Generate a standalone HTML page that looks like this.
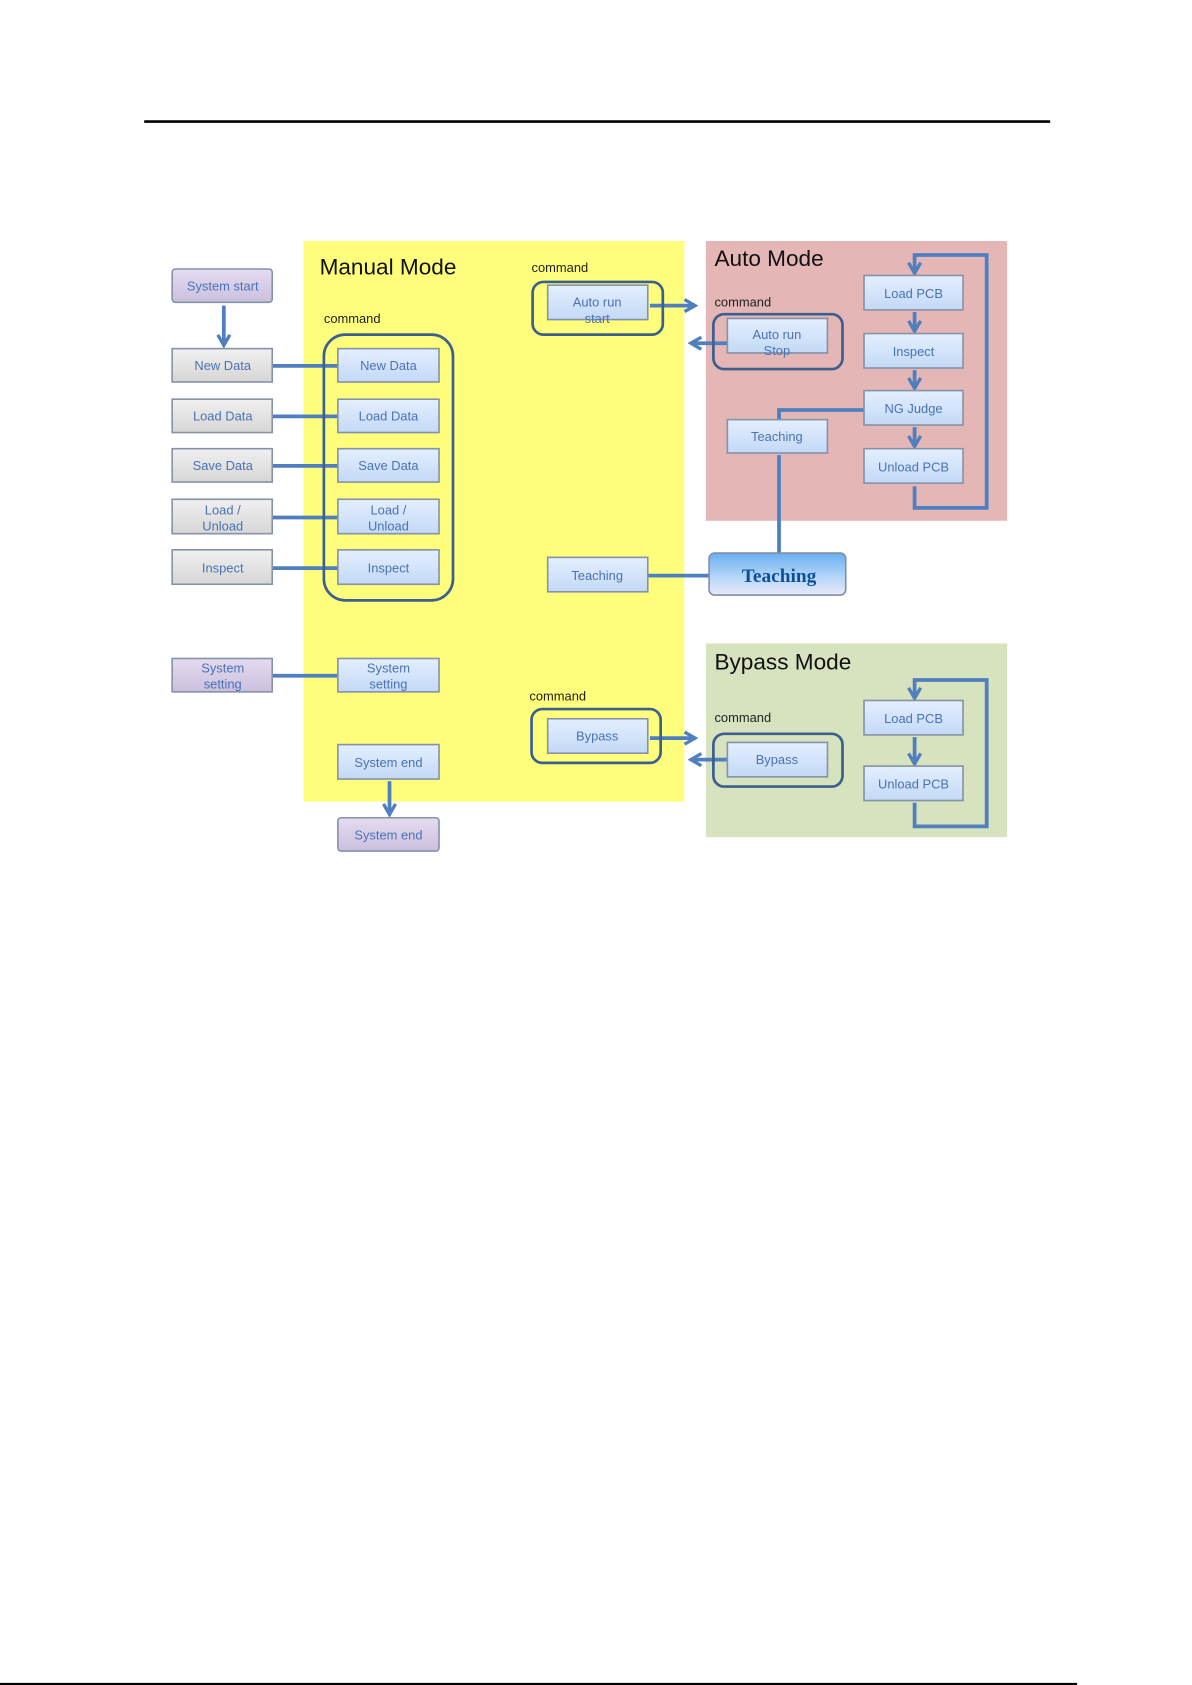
<!DOCTYPE html>
<html><head><meta charset="utf-8"><style>html,body{margin:0;padding:0;background:#fff}svg{display:block}</style></head>
<body>
<svg width="1192" height="1685" viewBox="0 0 1107.8 1566" xmlns="http://www.w3.org/2000/svg" font-family="Liberation Sans, sans-serif">
<defs>
<linearGradient id="bl" x1="0" y1="0" x2="0" y2="1"><stop offset="0" stop-color="#e4efff"/><stop offset="1" stop-color="#c3d9f6"/></linearGradient>
<linearGradient id="gr" x1="0" y1="0" x2="0" y2="1"><stop offset="0" stop-color="#f0f0f0"/><stop offset="1" stop-color="#d6d6d6"/></linearGradient>
<linearGradient id="pu" x1="0" y1="0" x2="0" y2="1"><stop offset="0" stop-color="#e4dcf0"/><stop offset="1" stop-color="#cbbfdf"/></linearGradient>
<linearGradient id="tb" x1="0" y1="0" x2="0" y2="1"><stop offset="0" stop-color="#6aaef0"/><stop offset="0.6" stop-color="#b8d8f8"/><stop offset="1" stop-color="#e8e8f8"/></linearGradient>
<marker id="ar" viewBox="0 0 10 10" refX="8" refY="5" markerWidth="4" markerHeight="4" orient="auto"><path d="M1,1 L8,5 L1,9" fill="none" stroke="#4f7fbf" stroke-width="2.2"/></marker>
</defs>
<line x1="134" y1="113" x2="976" y2="113" stroke="#000" stroke-width="2.5"/>
<line x1="0" y1="1565" x2="1001" y2="1565" stroke="#000" stroke-width="2"/>
<rect x="282" y="224" width="354" height="521" fill="#fefe7c"/>
<rect x="656" y="224" width="280" height="260" fill="#e4b6b6"/>
<rect x="656" y="598" width="280" height="180" fill="#d7e2be"/>
<g fill="#111" font-size="21"><text x="297" y="255">Manual Mode</text><text x="664" y="247">Auto Mode</text><text x="664" y="622">Bypass Mode</text></g>
<g fill="#222" font-size="12"><text x="301" y="300">command</text><text x="494" y="253">command</text><text x="664" y="285">command</text><text x="492" y="651">command</text><text x="664" y="671">command</text></g>
<g fill="none" stroke="#4f7fbf" stroke-width="3.5">
<line x1="253" y1="340" x2="314" y2="340"/><line x1="253" y1="387" x2="314" y2="387"/><line x1="253" y1="433" x2="314" y2="433"/><line x1="253" y1="481" x2="314" y2="481"/><line x1="253" y1="528" x2="314" y2="528"/><line x1="253" y1="628" x2="314" y2="628"/>
<line x1="208" y1="284" x2="208" y2="321" marker-end="url(#ar)"/>
<line x1="362" y1="726" x2="362" y2="757" marker-end="url(#ar)"/>
<line x1="604" y1="284" x2="646" y2="284" marker-end="url(#ar)"/>
<line x1="676" y1="319" x2="642" y2="319" marker-end="url(#ar)"/>
<line x1="604" y1="686" x2="646" y2="686" marker-end="url(#ar)"/>
<line x1="676" y1="706" x2="642" y2="706" marker-end="url(#ar)"/>
<line x1="850" y1="290" x2="850" y2="308" marker-end="url(#ar)"/>
<line x1="850" y1="344" x2="850" y2="361" marker-end="url(#ar)"/>
<line x1="850" y1="397" x2="850" y2="415" marker-end="url(#ar)"/>
<polyline points="850,452 850,472 917,472 917,237 850,237 850,254" marker-end="url(#ar)"/>
<line x1="850" y1="685" x2="850" y2="710" marker-end="url(#ar)"/>
<polyline points="850,746 850,768 917,768 917,632 850,632 850,649" marker-end="url(#ar)"/>
<polyline points="803,381 724,381 724,390"/>
<line x1="724" y1="423" x2="724" y2="514"/>
<line x1="602" y1="535" x2="659" y2="535"/>
</g>
<g fill="none" stroke="#3d5f8e" stroke-width="2.5">
<rect x="301" y="311" width="120" height="247" rx="20"/>
<rect x="495" y="262" width="121" height="49" rx="10"/>
<rect x="663" y="292" width="120" height="51" rx="10"/>
<rect x="494" y="659" width="120" height="50" rx="10"/>
<rect x="663" y="682" width="120" height="49" rx="10"/>
</g>
<g stroke="#8593a8" stroke-width="1.5">
<rect x="160" y="250" width="93" height="31" rx="3" fill="url(#pu)"/>
<rect x="160" y="324" width="93" height="31" fill="url(#gr)"/>
<rect x="160" y="371" width="93" height="31" fill="url(#gr)"/>
<rect x="160" y="417" width="93" height="31" fill="url(#gr)"/>
<rect x="160" y="464" width="93" height="32" fill="url(#gr)"/>
<rect x="160" y="511" width="93" height="32" fill="url(#gr)"/>
<rect x="160" y="612" width="93" height="31" fill="url(#pu)"/>
<rect x="314" y="324" width="94" height="31" fill="url(#bl)"/>
<rect x="314" y="371" width="94" height="31" fill="url(#bl)"/>
<rect x="314" y="417" width="94" height="31" fill="url(#bl)"/>
<rect x="314" y="464" width="94" height="32" fill="url(#bl)"/>
<rect x="314" y="511" width="94" height="32" fill="url(#bl)"/>
<rect x="314" y="612" width="94" height="31" fill="url(#bl)"/>
<rect x="314" y="692" width="94" height="32" fill="url(#bl)"/>
<rect x="314" y="760" width="94" height="31" rx="3" fill="url(#pu)"/>
<rect x="509" y="265" width="93" height="32" fill="url(#bl)"/>
<rect x="676" y="296" width="93" height="32" fill="url(#bl)"/>
<rect x="803" y="256" width="92" height="32" fill="url(#bl)"/>
<rect x="803" y="310" width="92" height="32" fill="url(#bl)"/>
<rect x="803" y="363" width="92" height="32" fill="url(#bl)"/>
<rect x="803" y="417" width="92" height="32" fill="url(#bl)"/>
<rect x="676" y="390" width="93" height="31" fill="url(#bl)"/>
<rect x="509" y="518" width="93" height="32" fill="url(#bl)"/>
<rect x="509" y="668" width="93" height="32" fill="url(#bl)"/>
<rect x="676" y="690" width="93" height="32" fill="url(#bl)"/>
<rect x="803" y="651" width="92" height="32" fill="url(#bl)"/>
<rect x="803" y="712" width="92" height="32" fill="url(#bl)"/>
<rect x="659" y="514" width="127" height="39" rx="5" fill="url(#tb)" stroke="#7f8fa8"/>
</g>
<g fill="#4a72b4" font-size="12" text-anchor="middle">
<text x="207" y="270">System start</text>
<text x="207" y="344">New Data</text><text x="207" y="391">Load Data</text><text x="207" y="437">Save Data</text>
<text x="207" y="478">Load /</text><text x="207" y="493">Unload</text>
<text x="207" y="532">Inspect</text>
<text x="207" y="625">System</text><text x="207" y="640">setting</text>
<text x="361" y="344">New Data</text><text x="361" y="391">Load Data</text><text x="361" y="437">Save Data</text>
<text x="361" y="478">Load /</text><text x="361" y="493">Unload</text>
<text x="361" y="532">Inspect</text>
<text x="361" y="625">System</text><text x="361" y="640">setting</text>
<text x="361" y="713">System end</text><text x="361" y="780">System end</text>
<text x="555" y="285">Auto run</text><text x="555" y="300">start</text>
<text x="722" y="315">Auto run</text><text x="722" y="330">Stop</text>
<text x="849" y="277">Load PCB</text><text x="849" y="331">Inspect</text><text x="849" y="384">NG Judge</text><text x="849" y="438">Unload PCB</text>
<text x="722" y="410">Teaching</text><text x="555" y="539">Teaching</text>
<text x="555" y="688">Bypass</text><text x="722" y="710">Bypass</text>
<text x="849" y="672">Load PCB</text><text x="849" y="733">Unload PCB</text>
<text x="724" y="541" font-family="Liberation Serif, serif" font-weight="bold" font-size="18" fill="#0d4f9a">Teaching</text>
</g>
</svg>
</body></html>
